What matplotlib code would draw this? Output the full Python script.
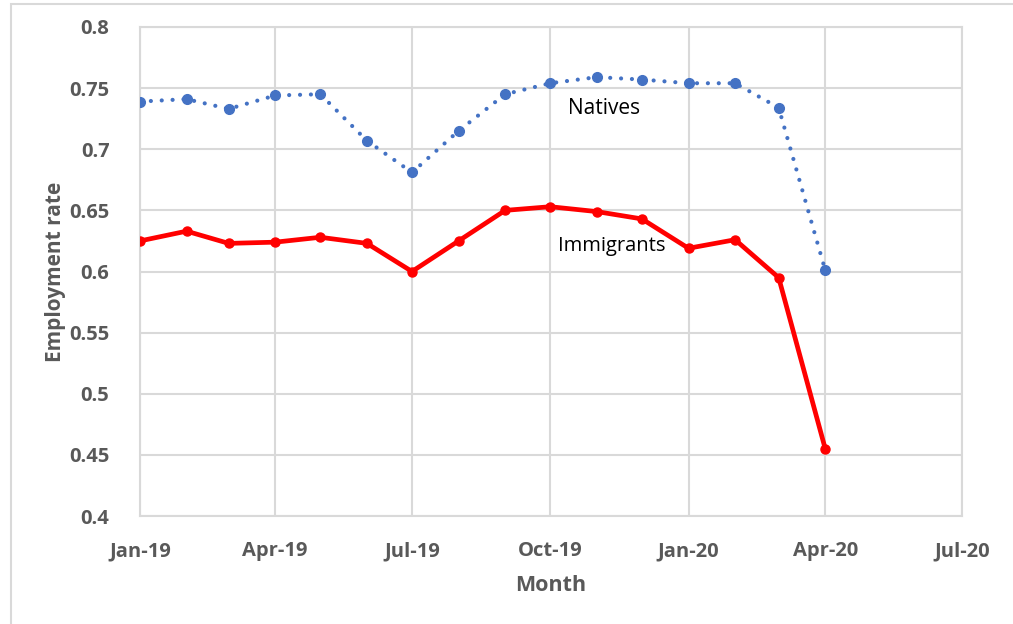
import matplotlib
matplotlib.use("Agg")
import matplotlib.pyplot as plt
import matplotlib.dates as mdates
import numpy as np
from datetime import date

# monthly employment rates, Jan 2019 - Apr 2020
months = [date(2019, m, 1) for m in range(1, 13)] + [date(2020, m, 1) for m in range(1, 5)]
natives = [0.739, 0.741, 0.733, 0.744, 0.745, 0.707, 0.681, 0.715,
           0.745, 0.754, 0.759, 0.757, 0.754, 0.754, 0.734, 0.601]
immigrants = [0.625, 0.633, 0.623, 0.624, 0.628, 0.623, 0.600, 0.625,
              0.650, 0.653, 0.649, 0.643, 0.619, 0.626, 0.595, 0.455]

y_ticks = [0.4, 0.45, 0.5, 0.55, 0.6, 0.65, 0.7, 0.75, 0.8]
y_labels = ["0.4", "0.45", "0.5", "0.55", "0.6", "0.65", "0.7", "0.75", "0.8"]
x_ticks = [date(2019, 1, 1), date(2019, 4, 1), date(2019, 7, 1), date(2019, 10, 1),
           date(2020, 1, 1), date(2020, 4, 1), date(2020, 7, 1)]

W, H = 1013, 624
fig = plt.figure(figsize=(W / 100, H / 100), dpi=100)
plt.rcParams['font.family'] = ['Open Sans', 'DejaVu Sans']

# outer chart frame
fig.add_artist(plt.Rectangle((11 / W, -0.1), 1.2, (H - 4) / H + 0.1,
                             transform=fig.transFigure, fill=False,
                             edgecolor='#d9d9d9', linewidth=1.5))

ax = fig.add_axes([140 / W, (H - 516) / H, 822 / W, 489 / H])

grid_col = '#d9d9d9'
text_col = '#595959'

ax.plot(months, natives, color='#4472c4', linewidth=3.0,
        linestyle=(0, (0.01, 2.6)), dash_capstyle='round',
        marker='o', markersize=7, zorder=3)
ax.plot(months, immigrants, color='#ff0000', linewidth=3.4,
        marker='o', markersize=6.5, zorder=3)

ax.set_xlim(x_ticks[0], x_ticks[-1])
ax.set_ylim(0.4, 0.8)
ax.set_yticks(y_ticks)
ax.set_yticklabels(y_labels)
ax.set_xticks(x_ticks)
ax.xaxis.set_major_formatter(mdates.DateFormatter('%b-%y'))

ax.grid(True, color=grid_col, linewidth=1.5)
ax.set_axisbelow(True)
for s in ax.spines.values():
    s.set_color(grid_col)
    s.set_linewidth(1.5)
ax.tick_params(length=0, colors=text_col, labelsize=14.5)
ax.tick_params(axis='y', pad=22)
ax.tick_params(axis='x', pad=18)
for lbl in ax.get_xticklabels() + ax.get_yticklabels():
    lbl.set_fontweight('bold')

ax.set_ylabel('Employment rate', color=text_col, fontsize=15,
              fontweight='bold', labelpad=2)
ax.set_xlabel('Month', color=text_col, fontsize=15.5, fontweight='bold', labelpad=10)

ax.text(0.564, 0.834, 'Natives', transform=ax.transAxes, ha='center', va='center',
        fontsize=15, color='black')
ax.text(0.574, 0.552, 'Immigrants', transform=ax.transAxes, ha='center', va='center',
        fontsize=14.5, color='black')

fig.savefig('out.png', dpi=100)
